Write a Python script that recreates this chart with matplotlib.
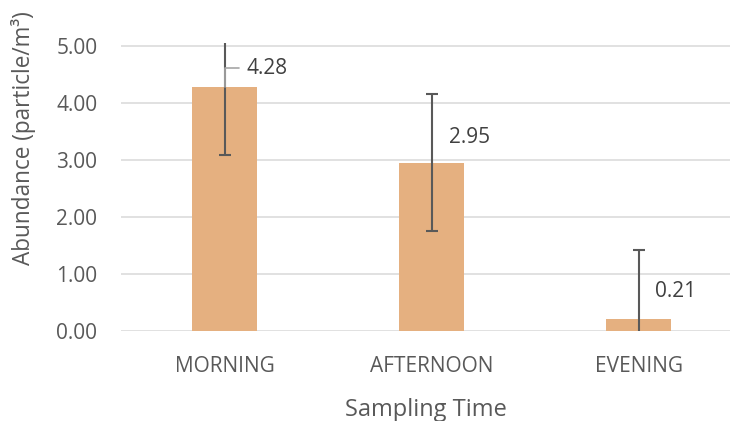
import matplotlib
matplotlib.use("Agg")
import matplotlib.pyplot as plt

categories = ["MORNING", "AFTERNOON", "EVENING"]
values = [4.28, 2.95, 0.21]
errors = [1.2, 1.2, 1.2]
yticks = [0.0, 1.0, 2.0, 3.0, 4.0, 5.0]
ytick_labels = ["0.00", "1.00", "2.00", "3.00", "4.00", "5.00"]
value_labels = ["4.28", "2.95", "0.21"]

plt.rcParams['font.family'] = ['Open Sans', 'DejaVu Sans']

fig = plt.figure(figsize=(7.30, 4.21), dpi=100)
ax = fig.add_axes([121/730, (421-330.7)/421, 1 - 121/730, (330.7-43)/421])

x = list(range(len(categories)))
ax.bar(x, values, width=0.314, color="#E5B080", zorder=2)
ax.errorbar(x, values, yerr=errors, fmt='none', ecolor="#595959",
            elinewidth=1.5, capsize=4.3, capthick=1.5, zorder=3)

ax.set_xlim(-0.5, 2.442)
ax.set_ylim(0, 5.047)
ax.set_yticks(yticks)
ax.set_yticklabels(ytick_labels)
ax.set_xticks(x)
ax.set_xticklabels(categories)
ax.yaxis.grid(True, color="#d9d9d9", linewidth=1.1, zorder=0)
ax.set_axisbelow(True)
for s in ax.spines.values():
    s.set_visible(False)
ax.tick_params(axis='both', length=0, labelsize=15, labelcolor="#595959")
ax.tick_params(axis='y', pad=17)
ax.tick_params(axis='x', pad=18.5)

ax.set_xlabel("Sampling Time", fontsize=17, color="#595959", labelpad=15)
fig.text(24/730, 1 - 138/421, "Abundance (particle/m³)", rotation=90,
         ha='center', va='center', fontsize=16.3, color="#595959")

offsets = [(15.6, 13.2), (12.3, 18.0), (11.7, 19.7)]
for i, (v, lab, off) in enumerate(zip(values, value_labels, offsets)):
    if i == 0:
        ax.annotate(lab, xy=(i, v), xytext=off, textcoords='offset points',
                    ha='left', va='center', fontsize=15, color="#404040",
                    arrowprops=dict(arrowstyle='-', color="#a6a6a6", lw=1.2,
                                    shrinkA=3, shrinkB=0,
                                    connectionstyle='angle,angleA=0,angleB=90,rad=0'),
                    zorder=4)
    else:
        ax.annotate(lab, xy=(i, v), xytext=off, textcoords='offset points',
                    ha='left', va='center', fontsize=15, color="#404040", zorder=4)

fig.savefig("out.png", dpi=100)
